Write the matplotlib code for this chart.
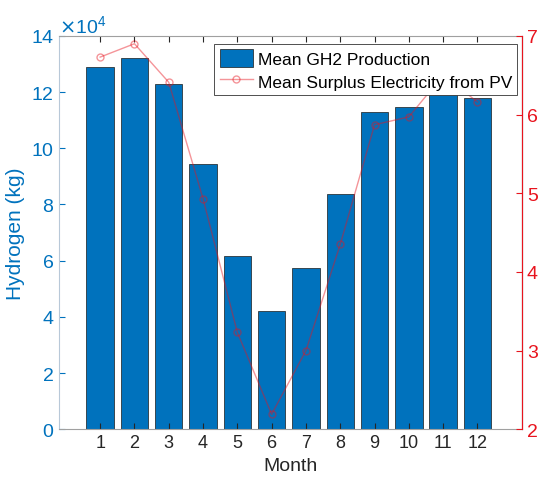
import matplotlib.pyplot as plt
from matplotlib.ticker import ScalarFormatter

plt.rcParams['font.family'] = ['Liberation Sans', 'DejaVu Sans']

months = [1, 2, 3, 4, 5, 6, 7, 8, 9, 10, 11, 12]
gh2 = [12.9, 13.2, 12.28, 9.43, 6.16, 4.2, 5.73, 8.36, 11.28, 11.46, 12.06, 11.78]  # x1e4 kg
surplus = [6.73, 6.9, 6.41, 4.93, 3.23, 2.19, 3.0, 4.35, 5.87, 5.97, 6.5, 6.16]

blue = '#0072BD'
red = '#E8141E'

fig = plt.figure(figsize=(5.41, 4.85), dpi=100)
ax = fig.add_axes([0.109, 0.113, 0.856, 0.811])
bars = ax.bar(months, [v * 1e4 for v in gh2], width=0.8, color=blue,
              edgecolor='#1a1a1a', linewidth=0.5, label='Mean GH2 Production')
ax.set_xlim(-0.2, 13.3)
ax.set_ylim(0, 14e4)
ax.set_yticks([i * 2e4 for i in range(8)])
fmt = ScalarFormatter(useMathText=True)
fmt.set_powerlimits((4, 4))
ax.yaxis.set_major_formatter(fmt)
ax.yaxis.get_offset_text().set_color(blue)
ax.yaxis.get_offset_text().set_fontsize(14)
ax.set_xticks(months)
ax.tick_params(axis='y', colors=blue, labelsize=14, direction='in', length=4)
ax.tick_params(axis='x', labelsize=13, direction='in', length=4, top=True, colors='#262626')
ax.set_ylabel('Hydrogen (kg)', color=blue, fontsize=15)
ax.set_xlabel('Month', fontsize=14, color='#262626')
for s in ['left', 'bottom', 'top']:
    ax.spines[s].set_color('#a0a0a0')
ax.spines['left'].set_color('#b8c8d8')

ax2 = ax.twinx()
line, = ax2.plot(months, surplus, '-o', color=red, alpha=0.45, markersize=5,
                 markerfacecolor='none', linewidth=1, label='Mean Surplus Electricity from PV')
ax2.set_ylim(2, 7)
ax2.set_yticks([2, 3, 4, 5, 6, 7])
ax2.tick_params(axis='y', colors=red, labelsize=14, direction='in', length=4)
ax2.spines['right'].set_color(red)
ax2.spines['left'].set_visible(False)
ax2.spines['top'].set_visible(False)
ax2.spines['bottom'].set_visible(False)

leg = ax2.legend([bars, line], ['Mean GH2 Production', 'Mean Surplus Electricity from PV'],
                 loc='upper right', bbox_to_anchor=(0.99, 0.98), fontsize=12.5,
                 fancybox=False, edgecolor='#333333', framealpha=1,
                 handlelength=1.9, handleheight=1.2, handletextpad=0.3,
                 borderpad=0.3, labelspacing=0.3, borderaxespad=0)
leg.get_frame().set_linewidth(0.6)

fig.savefig('out.png', dpi=100)
